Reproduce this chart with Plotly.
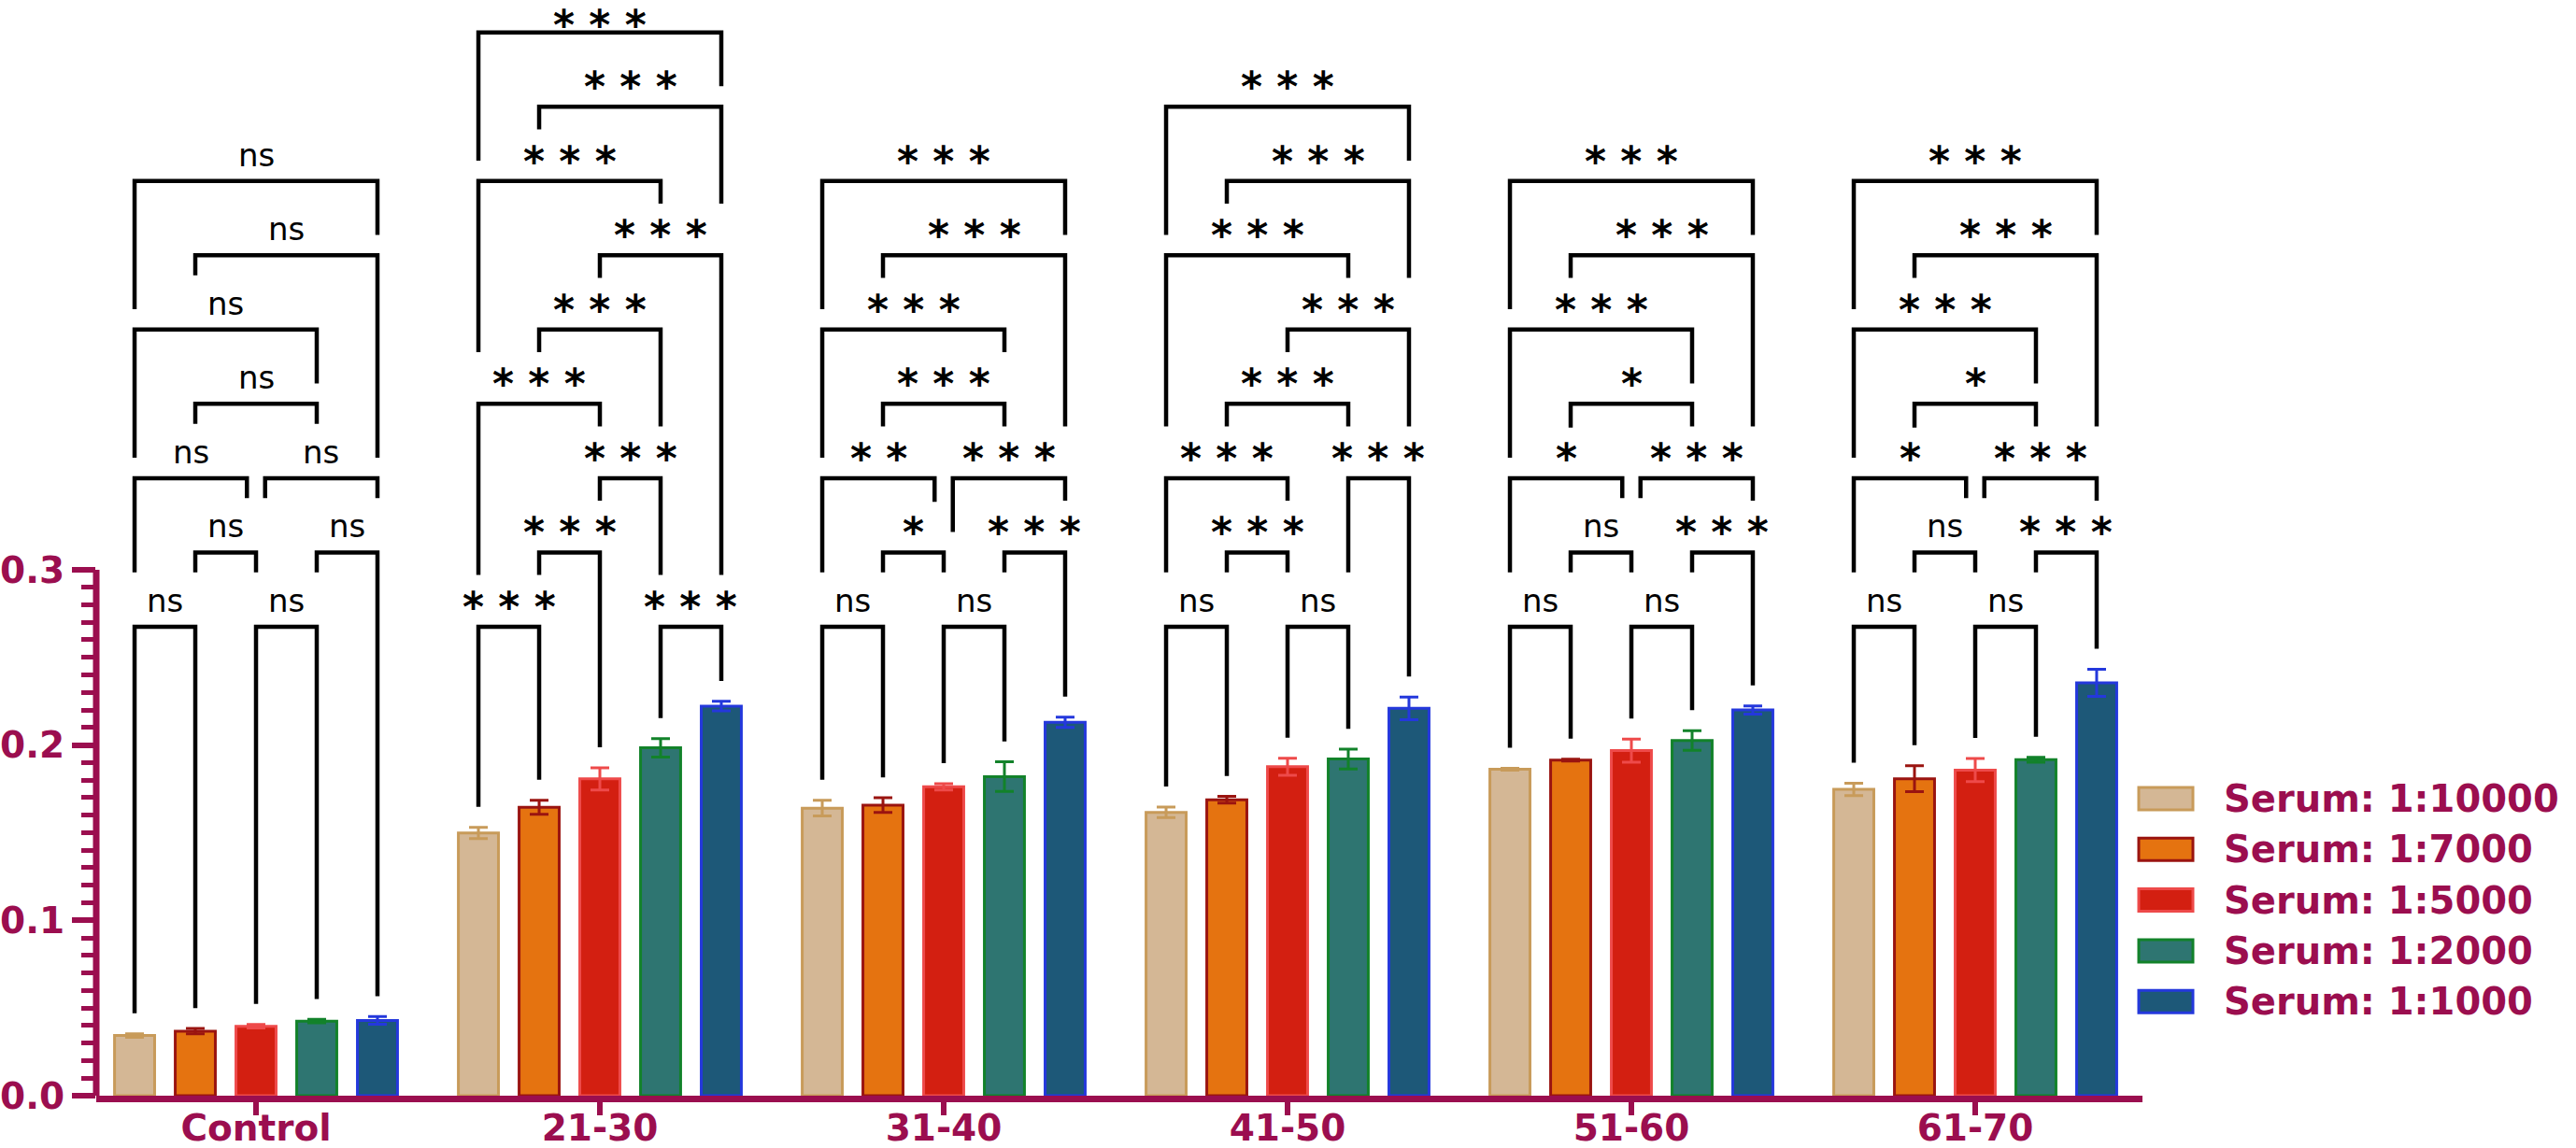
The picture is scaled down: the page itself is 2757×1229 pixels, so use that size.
import plotly.graph_objects as go

# ---------------- data ----------------
categories = ["Control", "21-30", "31-40", "41-50", "51-60", "61-70"]
series_names = ["Serum: 1:10000", "Serum: 1:7000", "Serum: 1:5000", "Serum: 1:2000", "Serum: 1:1000"]

serum_10000 = [0.0343, 0.1499, 0.1640, 0.1616, 0.1862, 0.1747]
serum_7000 = [0.0368, 0.1645, 0.1657, 0.1688, 0.1914, 0.1808]
serum_5000 = [0.0396, 0.1807, 0.1762, 0.1876, 0.1968, 0.1857]
serum_2000 = [0.0425, 0.1984, 0.1820, 0.1920, 0.2026, 0.1916]
serum_1000 = [0.0429, 0.2222, 0.2130, 0.2209, 0.2200, 0.2355]

err_10000 = [0.0010, 0.0032, 0.0045, 0.0030, 0.0005, 0.0035]
err_7000 = [0.0015, 0.0040, 0.0042, 0.0019, 0.0005, 0.0074]
err_5000 = [0.0010, 0.0063, 0.0018, 0.0049, 0.0066, 0.0066]
err_2000 = [0.0010, 0.0053, 0.0084, 0.0056, 0.0056, 0.0014]
err_1000 = [0.0022, 0.0027, 0.0029, 0.0065, 0.0023, 0.0077]

y_tick_values = [0.0, 0.1, 0.2, 0.3]

# multiple comparisons: (bar a, bar b, label, stacking level)
comparisons = {
    "Control": [(0, 1, "ns", 1), (2, 3, "ns", 1), (1, 2, "ns", 2), (3, 4, "ns", 2), (0, 2, "ns", 3),
                (2, 4, "ns", 3), (1, 3, "ns", 4), (0, 3, "ns", 5), (1, 4, "ns", 6), (0, 4, "ns", 7)],
    "21-30": [(0, 1, "***", 1), (3, 4, "***", 1), (1, 2, "***", 2), (2, 3, "***", 3), (0, 2, "***", 4),
              (1, 3, "***", 5), (2, 4, "***", 6), (0, 3, "***", 7), (1, 4, "***", 8), (0, 4, "***", 9)],
    "31-40": [(0, 1, "ns", 1), (2, 3, "ns", 1), (1, 2, "*", 2), (3, 4, "***", 2), (0, 2, "**", 3),
              (2, 4, "***", 3), (1, 3, "***", 4), (0, 3, "***", 5), (1, 4, "***", 6), (0, 4, "***", 7)],
    "41-50": [(0, 1, "ns", 1), (2, 3, "ns", 1), (1, 2, "***", 2), (0, 2, "***", 3), (3, 4, "***", 3),
              (1, 3, "***", 4), (2, 4, "***", 5), (0, 3, "***", 6), (1, 4, "***", 7), (0, 4, "***", 8)],
    "51-60": [(0, 1, "ns", 1), (2, 3, "ns", 1), (1, 2, "ns", 2), (3, 4, "***", 2), (0, 2, "*", 3),
              (2, 4, "***", 3), (1, 3, "*", 4), (0, 3, "***", 5), (1, 4, "***", 6), (0, 4, "***", 7)],
    "61-70": [(0, 1, "ns", 1), (2, 3, "ns", 1), (1, 2, "ns", 2), (3, 4, "***", 2), (0, 2, "*", 3),
              (2, 4, "***", 3), (1, 3, "*", 4), (0, 3, "***", 5), (1, 4, "***", 6), (0, 4, "***", 7)],
}

values = [serum_10000, serum_7000, serum_5000, serum_2000, serum_1000]
errors = [err_10000, err_7000, err_5000, err_2000, err_1000]

# ---------------- style ----------------
CRIMSON = "#9B0E4F"
fill_colors = ["#D4B795", "#E57310", "#D31F11", "#2E7571", "#1D5878"]
edge_colors = ["#C89B5A", "#9A1410", "#EE4A4A", "#12822A", "#2438DC"]
FONT = "DejaVu Sans"

W, H = 2757, 1229
PL, PR, PT, PB = 103, 2293, 0, 1173          # plot area in pixels
X_RANGE = [-0.4647, 5.4864]
PX_PER_UNIT = 1877.0
Y_MAX = (PB - PT) / PX_PER_UNIT
BARGAP, BARGROUPGAP = 0.117, 0.34
NSER = len(series_names)
SLOT = (1 - BARGAP) / NSER

fig = go.Figure()
for k in range(NSER):
    fig.add_trace(go.Bar(
        x=categories, y=values[k], name=series_names[k], showlegend=False,
        marker=dict(color=fill_colors[k], line=dict(color=edge_colors[k], width=3)),
        error_y=dict(type="data", array=errors[k], color=edge_colors[k], thickness=3, width=10),
    ))

# ---------------- significance brackets ----------------
BASE, STEP, GAP = 0.2675, 0.04236, 0.0117
TEXT_TOP = {"ns": 0.0193, "*": 0.0171, "**": 0.0178, "***": 0.0178}
HALF = {"ns": 0.34, "*": 0.13, "**": 0.40, "***": 0.74}
PAD = 0.43
SHARE_OFF = 0.15


def level_y(L):
    return BASE + (L - 1) * STEP


def to_x(g, p):
    return g - (1 - BARGAP) / 2 + (p + 0.5) * SLOT


shapes = []
annotations = []
for g, cat in enumerate(categories):
    comps = comparisons[cat]
    ends = []
    for (a, b, lab, L) in comps:
        pa, pb = float(a), float(b)
        for (a2, b2, _, L2) in comps:
            if L2 == L and (a2, b2) != (a, b):
                if b2 == a:
                    pa += SHARE_OFF
                if a2 == b:
                    pb -= SHARE_OFF
        ends.append((pa, pb))

    def leg_bottom(p, i, L):
        obst = [values[i][g] + errors[i][g]]
        for (a2, b2, lab2, L2), (pa2, pb2) in zip(comps, ends):
            if L2 < L and pa2 - 0.2 <= p <= pb2 + 0.2:
                obst.append(level_y(L2))
                if abs(p - (pa2 + pb2) / 2) <= HALF[lab2] + PAD:
                    obst.append(level_y(L2) + TEXT_TOP[lab2])
        return max(obst) + GAP

    for (a, b, lab, L), (pa, pb) in zip(comps, ends):
        yl = level_y(L)
        ya = leg_bottom(pa, a, L)
        yb = leg_bottom(pb, b, L)
        xa, xb = to_x(g, pa), to_x(g, pb)
        shapes.append(dict(type="path", xref="x", yref="y",
                           path=f"M {xa},{ya} L {xa},{yl} L {xb},{yl} L {xb},{yb}",
                           line=dict(color="black", width=4.5)))
        is_star = lab != "ns"
        shift = -6 if is_star else 6
        # keep the topmost label inside the picture
        top_px = PB - yl * PX_PER_UNIT
        if top_px < 50:
            shift = -19
        annotations.append(dict(
            x=(xa + xb) / 2, y=yl, xref="x", yref="y",
            text=(" ".join(list(lab)) if is_star else lab), showarrow=False,
            xanchor="center", yanchor="bottom", yshift=shift,
            font=dict(family=FONT, size=(44 if is_star else 34), color="black",
                      weight=("bold" if is_star else "normal")),
        ))

# ---------------- y-axis line (only up to 0.3) ----------------
shapes.append(dict(type="line", xref="paper", yref="paper", x0=0, x1=0,
                   y0=0, y1=y_tick_values[-1] / Y_MAX, line=dict(color=CRIMSON, width=7)))


# ---------------- legend (drawn) ----------------
def px_to_paper_x(px):
    return (px - PL) / (PR - PL)


def px_to_paper_y(py):
    return (PB - py) / (PB - PT)


for k in range(NSER):
    cy = 855 + k * 54.3
    shapes.append(dict(type="rect", xref="paper", yref="paper",
                       x0=px_to_paper_x(2289), x1=px_to_paper_x(2347),
                       y0=px_to_paper_y(cy + 12), y1=px_to_paper_y(cy - 12),
                       fillcolor=fill_colors[k], line=dict(color=edge_colors[k], width=3)))
    annotations.append(dict(x=px_to_paper_x(2378), y=px_to_paper_y(cy), xref="paper", yref="paper",
                            text=series_names[k], showarrow=False, xanchor="left", yanchor="middle",
                            font=dict(family=FONT, size=40, color=CRIMSON, weight="bold")))

minor_vals = [round(k * 0.01, 2) for k in range(1, 30) if k % 10 != 0]

fig.update_layout(
    width=W, height=H,
    margin=dict(l=PL, r=W - PR, t=PT, b=H - PB, pad=0, autoexpand=False),
    paper_bgcolor="white", plot_bgcolor="white",
    barmode="group", bargap=BARGAP, bargroupgap=BARGROUPGAP,
    showlegend=False,
    shapes=shapes, annotations=annotations,
    xaxis=dict(type="category", range=X_RANGE, showgrid=False, zeroline=False, automargin=False,
               showline=True, linecolor=CRIMSON, linewidth=7,
               ticks="outside", ticklen=14, tickwidth=6, tickcolor=CRIMSON,
               ticklabelstandoff=-20,
               tickfont=dict(family=FONT, size=39, color=CRIMSON, weight="bold")),
    yaxis=dict(range=[0, Y_MAX], showgrid=False, zeroline=False, showline=False, automargin=False,
               tickmode="array", tickvals=y_tick_values, tickformat=".1f",
               ticks="outside", ticklen=25, tickwidth=6, tickcolor=CRIMSON,
               tickfont=dict(family=FONT, size=39, color=CRIMSON, weight="bold"),
               minor=dict(tickmode="array", tickvals=minor_vals, ticks="outside",
                          ticklen=15, tickwidth=5, tickcolor=CRIMSON, showgrid=False)),
)

fig.write_html("out.html", config={"displayModeBar": False},
               post_script="document.body.style.margin='0';document.body.style.overflow='hidden';")
